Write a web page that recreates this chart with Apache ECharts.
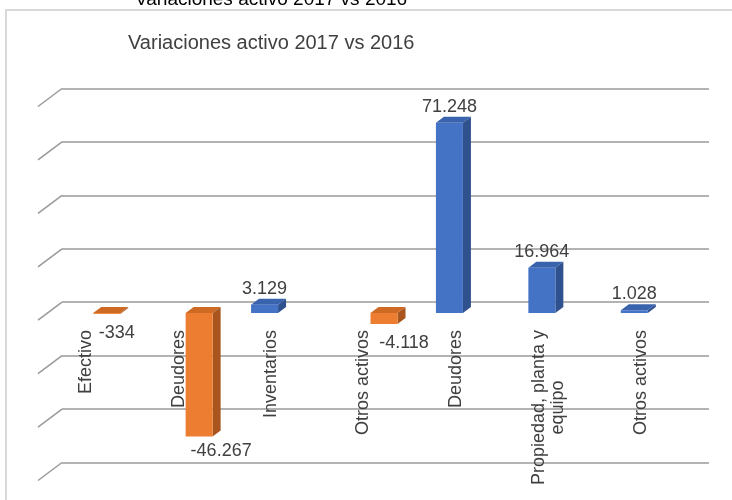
<!DOCTYPE html>
<html><head><meta charset="utf-8">
<script src="https://cdn.jsdelivr.net/npm/echarts@6/dist/echarts.min.js"></script>
<style>html,body{margin:0;padding:0;background:#fff}#c{width:732px;height:500px}</style>
</head><body><div id="c"></div>
<script>
const titleText = 'Variaciones activo 2017 vs 2016';
const categories = ['Efectivo', 'Deudores', 'Inventarios', 'Otros activos', 'Deudores', 'Propiedad, planta y\nequipo', 'Otros activos'];
const aumentos = [null, null, 3129, null, 71248, 16964, 1028];
const disminuciones = [-334, -46267, null, -4118, null, null, null];
const yMin = -60000, yMax = 80000, yStep = 20000;
const gridValues = [-60000, -40000, -20000, 0, 20000, 40000, 60000, 80000];

// styles (kept apart from data)
const BLUE = {front: '#4472C4', top: '#3A63AE', side: '#2F528F'};
const ORANGE = {front: '#ED7D31', top: '#CF6A24', side: '#A9561E'};
const DX = 8, DY = 6, BAR_W = 27;
const negLabelShift = [[10, 0], [22, -4.5], null, [20, 0], null, null, null];
const FONT = 'Liberation Sans, Arial, sans-serif';
const TXT = '#404040';

function fmt(v) {
  const s = Math.abs(v).toString().replace(/\B(?=(\d{3})+(?!\d))/g, '.');
  return (v < 0 ? '-' : '') + s;
}

function faceRenderer(colors, sideSign) {
  return function (params, api) {
    const i = api.value(0), v = api.value(1);
    const base = api.coord([i, 0]);
    const hi = api.coord([i, Math.max(v, 0)])[1];
    const lo = api.coord([i, Math.min(v, 0)])[1];
    const x0 = sideSign < 0 ? base[0] - BAR_W : base[0];
    const x1 = x0 + BAR_W;
    return {type: 'group', children: [
      {type: 'polygon', shape: {points: [[x0, hi], [x1, hi], [x1 + DX, hi - DY], [x0 + DX, hi - DY]]}, style: {fill: colors.top}},
      {type: 'polygon', shape: {points: [[x1, hi], [x1 + DX, hi - DY], [x1 + DX, lo - DY], [x1, lo]]}, style: {fill: colors.side}}
    ]};
  };
}

const hiddenY = (gi) => ({type: 'value', gridIndex: gi, min: yMin, max: yMax, interval: yStep,
  axisLabel: {show: false}, axisLine: {show: false}, axisTick: {show: false}, splitLine: {show: false}});

const chart = echarts.init(document.getElementById('c'));
chart.setOption({
  backgroundColor: '#fff',
  animation: false,
  title: [
    {text: titleText, left: 130, top: -14.5, textStyle: {fontFamily: FONT, fontSize: 19, fontWeight: 'normal', color: '#000'}},
    {text: titleText, left: 123, top: 28, textStyle: {fontFamily: FONT, fontSize: 20, fontWeight: 'normal', color: TXT}}
  ],
  graphic: [{type: 'rect', z: -10, shape: {x: 6, y: 10, width: 800, height: 600}, style: {fill: 'none', stroke: '#d9d9d9', lineWidth: 2}}],
  grid: [
    {left: 62, right: 23, top: 88.5, height: 374},
    {left: 47, right: 38, top: 99.3, height: 374},
    {left: 40, right: 45, top: 100, height: 222}
  ],
  xAxis: [
    {type: 'value', gridIndex: 0, min: 0, max: 1, show: false},
    {type: 'category', gridIndex: 1, data: categories, show: false},
    {type: 'category', gridIndex: 2, data: categories, position: 'bottom',
      axisLine: {show: false, onZero: false}, axisTick: {show: false},
      axisLabel: {rotate: 90, margin: 8, interval: 0, fontSize: 18, fontFamily: FONT, color: TXT,
        formatter: function (v) {
          const parts = v.split('\n');
          if (parts.length < 2) return v;
          return '{a|' + parts[0] + '}\n{b|' + parts[1] + '}';
        },
        rich: {a: {fontSize: 18, fontFamily: FONT, color: TXT, lineHeight: 19},
               b: {fontSize: 18, fontFamily: FONT, color: TXT, lineHeight: 19, width: 154, align: 'center'}}}}
  ],
  yAxis: [
    {type: 'value', gridIndex: 0, min: yMin, max: yMax, interval: yStep,
      axisLabel: {show: false}, axisLine: {show: false}, axisTick: {show: false},
      splitLine: {show: true, lineStyle: {color: '#9a9a9a', width: 1.5}}},
    hiddenY(1), hiddenY(2)
  ],
  series: [
    {type: 'custom', xAxisIndex: 0, yAxisIndex: 0, silent: true,
      data: gridValues.map(v => [0, v]),
      renderItem: function (params, api) {
        const p = api.coord([0, api.value(1)]);
        return {type: 'line', shape: {x1: p[0] - 24, y1: p[1] + 18, x2: p[0], y2: p[1]},
          style: {stroke: '#9a9a9a', lineWidth: 1.5}};
      }},
    {type: 'bar', name: 'Aumento', xAxisIndex: 1, yAxisIndex: 1, barWidth: BAR_W, barGap: '0%',
      itemStyle: {color: BLUE.front},
      label: {show: true, position: 'top', distance: 7, fontSize: 18, fontFamily: FONT, color: TXT,
        formatter: p => fmt(p.value)},
      data: aumentos.map(v => v == null ? '-' : v)},
    {type: 'bar', name: 'Disminución', xAxisIndex: 1, yAxisIndex: 1, barWidth: BAR_W, barGap: '0%',
      itemStyle: {color: ORANGE.front},
      data: disminuciones.map((v, i) => v == null ? '-' : {
        value: v,
        label: {show: true, position: 'bottom', distance: 10, offset: negLabelShift[i] || [0, 0],
          fontSize: 18, fontFamily: FONT, color: TXT, formatter: p => fmt(p.value)}
      })},
    {type: 'custom', xAxisIndex: 1, yAxisIndex: 1, silent: true,
      renderItem: faceRenderer(BLUE, -1), encode: {x: 0, y: 1},
      data: aumentos.map((v, i) => [i, v]).filter(d => d[1] != null)},
    {type: 'custom', xAxisIndex: 1, yAxisIndex: 1, silent: true,
      renderItem: faceRenderer(ORANGE, 1), encode: {x: 0, y: 1},
      data: disminuciones.map((v, i) => [i, v]).filter(d => d[1] != null)}
  ]
});
</script></body></html>
